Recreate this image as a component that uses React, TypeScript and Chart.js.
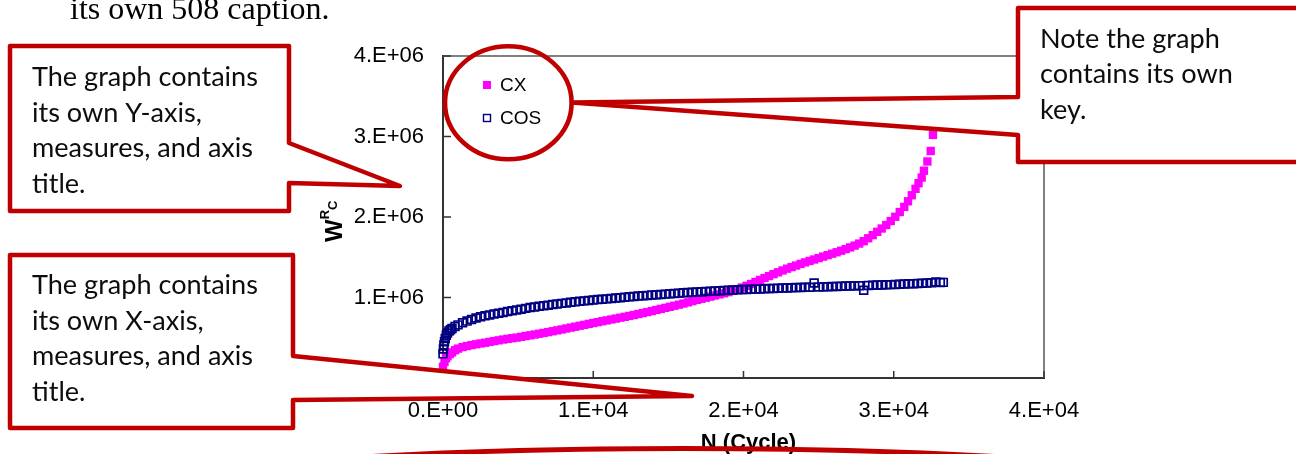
import { useEffect, useRef } from 'react';
import { Chart, registerables } from 'chart.js';

Chart.register(...registerables);

// ---------- data ----------
const cxCycles = [
  0, 100, 200, 300, 450, 600, 800, 1000, 1300, 1600, 1900, 2200, 2500, 2800, 3100, 3400, 3700,
  4000, 4300, 4600, 4900, 5200, 5500, 5800, 6100, 6400, 6700, 7000, 7300, 7600, 7900, 8200,
  8500, 8800, 9100, 9400, 9700, 10000, 10300, 10600, 10900, 11200, 11500, 11800, 12100, 12400,
  12700, 13000, 13300, 13600, 13900, 14200, 14500, 14800, 15100, 15400, 15700, 16000, 16300,
  16600, 16900, 17200, 17500, 17800, 18100, 18400, 18700, 19000, 19300, 19600, 19900, 20200,
  20500, 20800, 21100, 21400, 21700, 22000, 22300, 22600, 22900, 23200, 23500, 23800, 24100,
  24400, 24700, 25000, 25300, 25600, 25900, 26200, 26500, 26800, 27100, 27400, 27700, 28000,
  28300, 28600, 28900, 29200, 29500, 29800, 30100, 30400, 30700, 30950, 31200, 31450, 31650,
  31860, 32010, 32240, 32460, 32610,
];
const cxWork = [
  0.14e6, 0.2e6, 0.245e6, 0.27e6, 0.297e6, 0.318e6, 0.345e6, 0.365e6, 0.384e6, 0.397e6,
  0.409e6, 0.419e6, 0.429e6, 0.438e6, 0.448e6, 0.458e6, 0.468e6, 0.478e6, 0.486e6, 0.494e6,
  0.502e6, 0.511e6, 0.521e6, 0.53e6, 0.54e6, 0.55e6, 0.56e6, 0.57e6, 0.581e6, 0.592e6, 0.603e6,
  0.615e6, 0.626e6, 0.637e6, 0.649e6, 0.66e6, 0.672e6, 0.683e6, 0.694e6, 0.705e6, 0.716e6,
  0.727e6, 0.738e6, 0.749e6, 0.76e6, 0.771e6, 0.782e6, 0.795e6, 0.807e6, 0.819e6, 0.832e6,
  0.845e6, 0.858e6, 0.871e6, 0.884e6, 0.898e6, 0.911e6, 0.925e6, 0.94e6, 0.955e6, 0.97e6,
  0.984e6, 0.997e6, 1.011e6, 1.025e6, 1.039e6, 1.052e6, 1.066e6, 1.083e6, 1.102e6, 1.123e6,
  1.145e6, 1.168e6, 1.193e6, 1.218e6, 1.242e6, 1.266e6, 1.29e6, 1.313e6, 1.336e6, 1.358e6,
  1.378e6, 1.397e6, 1.417e6, 1.436e6, 1.454e6, 1.472e6, 1.49e6, 1.508e6, 1.526e6, 1.544e6,
  1.562e6, 1.581e6, 1.601e6, 1.622e6, 1.645e6, 1.67e6, 1.7e6, 1.736e6, 1.775e6, 1.816e6,
  1.857e6, 1.9e6, 1.95e6, 2.003e6, 2.062e6, 2.125e6, 2.195e6, 2.27e6, 2.35e6, 2.42e6, 2.49e6,
  2.575e6, 2.69e6, 2.82e6, 3.02e6,
];
const cosCycles = [
  0, 30, 60, 100, 150, 220, 300, 400, 500, 600, 800, 1000, 1300, 1600, 1900, 2200, 2500, 2800,
  3100, 3400, 3700, 4000, 4300, 4600, 4900, 5200, 5500, 5800, 6100, 6400, 6700, 7000, 7300,
  7600, 7900, 8200, 8500, 8800, 9100, 9400, 9700, 10000, 10300, 10600, 10900, 11200, 11500,
  11800, 12100, 12400, 12700, 13000, 13300, 13600, 13900, 14200, 14500, 14800, 15100, 15400,
  15700, 16000, 16300, 16600, 16900, 17200, 17500, 17800, 18100, 18400, 18700, 19000, 19300,
  19600, 19900, 20200, 20500, 20800, 21100, 21400, 21700, 22000, 22300, 22600, 22900, 23200,
  23500, 23800, 24100, 24400, 24700, 25000, 25300, 25600, 25900, 26200, 26500, 26800, 27100,
  27400, 27700, 28000, 28300, 28600, 28900, 29200, 29500, 29800, 30100, 30400, 30700, 31000,
  31300, 31600, 31900, 32200, 32500, 32800, 33100, 33300,
];
const cosWork = [
  0.3e6, 0.36e6, 0.41e6, 0.45e6, 0.49e6, 0.53e6, 0.56e6, 0.585e6, 0.6e6, 0.615e6, 0.64e6,
  0.66e6, 0.687e6, 0.707e6, 0.726e6, 0.745e6, 0.76e6, 0.772e6, 0.784e6, 0.795e6, 0.805e6,
  0.815e6, 0.825e6, 0.835e6, 0.845e6, 0.855e6, 0.865e6, 0.875e6, 0.883e6, 0.89e6, 0.898e6,
  0.905e6, 0.913e6, 0.92e6, 0.927e6, 0.933e6, 0.94e6, 0.946e6, 0.952e6, 0.958e6, 0.963e6,
  0.968e6, 0.974e6, 0.978e6, 0.983e6, 0.988e6, 0.993e6, 0.998e6, 1.003e6, 1.008e6, 1.013e6,
  1.018e6, 1.022e6, 1.026e6, 1.03e6, 1.034e6, 1.038e6, 1.042e6, 1.046e6, 1.05e6, 1.054e6,
  1.058e6, 1.061e6, 1.065e6, 1.069e6, 1.072e6, 1.075e6, 1.078e6, 1.081e6, 1.084e6, 1.087e6,
  1.09e6, 1.093e6, 1.095e6, 1.098e6, 1.1e6, 1.102e6, 1.104e6, 1.107e6, 1.109e6, 1.111e6,
  1.113e6, 1.115e6, 1.117e6, 1.119e6, 1.121e6, 1.123e6, 1.125e6, 1.126e6, 1.128e6, 1.18e6,
  1.131e6, 1.132e6, 1.134e6, 1.136e6, 1.138e6, 1.14e6, 1.142e6, 1.143e6, 1.145e6, 1.147e6,
  1.09e6, 1.15e6, 1.152e6, 1.154e6, 1.156e6, 1.158e6, 1.16e6, 1.162e6, 1.165e6, 1.167e6,
  1.17e6, 1.172e6, 1.175e6, 1.178e6, 1.18e6, 1.183e6, 1.192e6, 1.186e6, 1.188e6,
];

const xTickValues = [0, 10000, 20000, 30000, 40000];
const xTickLabels = ['0.E+00', '1.E+04', '2.E+04', '3.E+04', '4.E+04'];
const yTickValues = [0, 1e6, 2e6, 3e6, 4e6];
const yTickLabels = ['0.E+00', '1.E+06', '2.E+06', '3.E+06', '4.E+06'];

const seriesNames = ['CX', 'COS'];
const xTitle = 'N (Cycle)';

const calloutY = ['The graph contains', 'its own Y-axis,', 'measures, and axis', 'title.'];
const calloutX = ['The graph contains', 'its own X-axis,', 'measures, and axis', 'title.'];
const calloutKey = ['Note the graph', 'contains its own', 'key.'];
const captionText = 'its own 508 caption.';

// ---------- styling ----------
const SANS = '"Liberation Sans", Arial, sans-serif';
const CALLOUT_FONT = 'Lato, "Open Sans", sans-serif';
const RED = '#C00000';
const MAGENTA = '#FF00FF';
const NAVY = '#000080';

function poly(ctx: CanvasRenderingContext2D, pts: number[][]) {
  ctx.beginPath();
  ctx.moveTo(pts[0][0], pts[0][1]);
  for (let i = 1; i < pts.length; i++) ctx.lineTo(pts[i][0], pts[i][1]);
  ctx.closePath();
  ctx.fillStyle = '#fff';
  ctx.fill();
  ctx.strokeStyle = RED;
  ctx.lineWidth = 4.5;
  ctx.lineJoin = 'round';
  ctx.stroke();
}

function ellipse(ctx: CanvasRenderingContext2D, cx: number, cy: number, rx: number, ry: number, lw: number) {
  ctx.beginPath();
  ctx.ellipse(cx, cy, rx, ry, 0, 0, Math.PI * 2);
  ctx.strokeStyle = RED;
  ctx.lineWidth = lw;
  ctx.stroke();
}

const annotations = {
  id: 'annotations',
  afterDraw(chart: any) {
    const ctx: CanvasRenderingContext2D = chart.ctx;
    const { left, right, top, bottom } = chart.chartArea;
    const xs = chart.scales.x;
    const ys = chart.scales.y;
    ctx.save();

    // plot frame (top / right)
    ctx.strokeStyle = '#808080';
    ctx.lineWidth = 2;
    ctx.beginPath();
    ctx.moveTo(left, top);
    ctx.lineTo(right, top);
    ctx.lineTo(right, bottom);
    ctx.stroke();

    // inside tick marks
    ctx.strokeStyle = '#333';
    ctx.lineWidth = 1.5;
    ctx.beginPath();
    xTickValues.forEach((v) => {
      const px = xs.getPixelForValue(v);
      ctx.moveTo(px, bottom);
      ctx.lineTo(px, bottom - 7);
    });
    yTickValues.forEach((v) => {
      const py = ys.getPixelForValue(v);
      ctx.moveTo(left, py);
      ctx.lineTo(left + 8, py);
    });
    ctx.stroke();

    // legend inside the plot
    ctx.font = `19px ${SANS}`;
    ctx.textBaseline = 'middle';
    ctx.textAlign = 'left';
    seriesNames.forEach((name, i) => {
      const ds = chart.data.datasets.find((d: any) => d.label === name);
      const ly = top + 29 + i * 33;
      const lx = left + 44;
      if (name === 'CX') {
        ctx.fillStyle = ds.backgroundColor;
        ctx.fillRect(lx - 4, ly - 4, 8, 8);
      } else {
        ctx.strokeStyle = ds.borderColor;
        ctx.lineWidth = 1.4;
        ctx.strokeRect(lx - 3.5, ly - 3.5, 7, 7);
      }
      ctx.fillStyle = '#000';
      ctx.fillText(name, lx + 13, ly + 1);
    });

    // y-axis title W^R_C (rotated)
    ctx.save();
    ctx.translate(342, 242);
    ctx.rotate(-Math.PI / 2);
    ctx.textBaseline = 'alphabetic';
    ctx.fillStyle = '#000';
    ctx.font = `bold 24px ${SANS}`;
    ctx.fillText('W', 0, 0);
    const wW = ctx.measureText('W').width;
    ctx.font = `bold 13px ${SANS}`;
    ctx.fillText('R', wW, -13);
    const wR = ctx.measureText('R').width;
    ctx.fillText('C', wW + wR, -5);
    ctx.restore();

    // x-axis title
    ctx.font = `bold 22px ${SANS}`;
    ctx.textAlign = 'center';
    ctx.textBaseline = 'alphabetic';
    ctx.fillStyle = '#000';
    ctx.fillText(xTitle, (left + right) / 2 + 5, 449);

    // callouts
    poly(ctx, [[10, 46], [289, 46], [289, 143], [400, 186], [289, 183], [289, 211], [10, 211]]);
    poly(ctx, [[10, 255], [293, 255], [293, 356], [692, 396], [293, 400], [293, 428], [10, 428]]);
    poly(ctx, [[1018, 8], [1310, 8], [1310, 162], [1018, 162], [1018, 135], [572, 102.5], [1018, 97]]);

    // callout text, font size fitted to the text width
    ctx.font = `100px ${CALLOUT_FONT}`;
    const fit = (100 * 226) / ctx.measureText('The graph contains').width;
    ctx.font = `${fit.toFixed(2)}px ${CALLOUT_FONT}`;
    ctx.fillStyle = '#0d0d0d';
    ctx.textAlign = 'left';
    ctx.textBaseline = 'alphabetic';
    calloutY.forEach((t, i) => ctx.fillText(t, 32, 86 + i * 35.5));
    calloutX.forEach((t, i) => ctx.fillText(t, 32, 294 + i * 35.5));
    calloutKey.forEach((t, i) => ctx.fillText(t, 1040, 47.5 + i * 35.5));

    // ellipses
    ellipse(ctx, 508.3, 102.8, 63.3, 56.5, 4.6);
    ellipse(ctx, 683, 498.5, 570, 50, 5);

    // caption fragment at the top of the page
    ctx.font = `32px "Liberation Serif", "Times New Roman", serif`;
    ctx.fillStyle = '#000';
    ctx.textAlign = 'left';
    ctx.fillText(captionText, 70, 19);

    ctx.restore();
  },
};

export default function App() {
  const ref = useRef<HTMLCanvasElement>(null);
  useEffect(() => {
    const canvas = ref.current;
    if (!canvas) return;
    const cxPoints = cxCycles.map((n, i) => ({ x: n, y: cxWork[i] }));
    const cosPoints = cosCycles.map((n, i) => ({ x: n, y: cosWork[i] }));
    const chart = new Chart(canvas, {
      type: 'scatter',
      data: {
        datasets: [
          {
            label: 'COS',
            data: cosPoints,
            pointStyle: 'rect',
            pointRadius: 5.5,
            backgroundColor: 'rgba(0,0,0,0)',
            borderColor: NAVY,
            borderWidth: 1.7,
            clip: false,
            order: 0,
          } as any,
          {
            label: 'CX',
            data: cxPoints,
            pointStyle: 'rect',
            pointRadius: 5.9,
            backgroundColor: MAGENTA,
            borderColor: MAGENTA,
            borderWidth: 0,
            clip: false,
            order: 1,
          } as any,
        ],
      },
      options: {
        responsive: false,
        animation: false,
        devicePixelRatio: 1,
        events: [],
        layout: { padding: { left: 343, right: 252, top: 56, bottom: 0 } },
        plugins: { legend: { display: false }, tooltip: { enabled: false } },
        scales: {
          x: {
            type: 'linear',
            min: 0,
            max: 40000,
            afterFit: (s: any) => {
              s.height = 76;
            },
            afterBuildTicks: (s: any) => {
              s.ticks = xTickValues.map((v) => ({ value: v }));
            },
            ticks: {
              padding: 20,
              color: '#000',
              font: { size: 22, family: SANS },
              maxRotation: 0,
              autoSkip: false,
              callback: (_v: any, i: number) => xTickLabels[i],
            },
            grid: { display: false, drawTicks: false },
            border: { display: true, color: '#333', width: 2 },
          },
          y: {
            type: 'linear',
            min: 0,
            max: 4e6,
            afterFit: (s: any) => {
              s.width = 100;
            },
            afterBuildTicks: (s: any) => {
              s.ticks = yTickValues.map((v) => ({ value: v }));
            },
            ticks: {
              padding: 19,
              color: '#000',
              font: { size: 22, family: SANS },
              autoSkip: false,
              callback: (_v: any, i: number) => yTickLabels[i],
            },
            grid: { display: false, drawTicks: false },
            border: { display: true, color: '#333', width: 2 },
          },
        },
      },
      plugins: [annotations],
    });
    let alive = true;
    if ((document as any).fonts && (document as any).fonts.load) {
      Promise.all([
        (document as any).fonts.load(`27px Lato`),
        (document as any).fonts.load(`22px "Liberation Sans"`),
        (document as any).fonts.load(`bold 22px "Liberation Sans"`),
        (document as any).fonts.load(`32px "Liberation Serif"`),
      ])
        .then(() => {
          if (alive) chart.update();
        })
        .catch(() => {});
    }
    return () => {
      alive = false;
      chart.destroy();
    };
  }, []);
  return (
    <div style={{ position: 'absolute', left: 0, top: 0, width: 1296, height: 454, background: '#fff', overflow: 'hidden' }}>
      <canvas ref={ref} width={1296} height={454} style={{ display: 'block', width: 1296, height: 454 }} />
    </div>
  );
}
